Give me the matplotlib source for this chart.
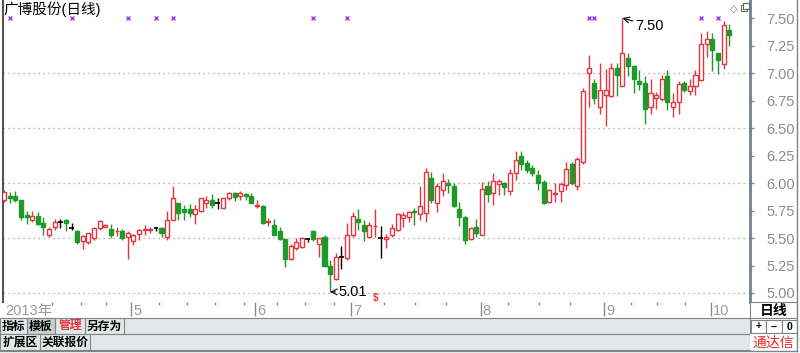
import numpy as np
import matplotlib
matplotlib.use('Agg')
import matplotlib.pyplot as plt
from matplotlib.patches import Rectangle
from matplotlib.transforms import blended_transform_factory

plt.rcParams['font.family'] = ['Liberation Sans', 'Noto Sans CJK SC', 'DejaVu Sans']

# ---- data ----
title = '广博股份(日线)'

opens = [5.845, 5.88, 5.88, 5.85, 5.71, 5.66, 5.70, 5.64, 5.53, 5.60,
         5.65, 5.66, 5.59, 5.56, 5.47, 5.46, 5.50, 5.59, 5.60, 5.58,
         5.56, 5.56, 5.51, 5.47, 5.54, 5.575, 5.575, 5.59, 5.59, 5.51,
         5.66, 5.82, 5.76, 5.76, 5.72, 5.75, 5.82, 5.85, 5.815, 5.77,
         5.86, 5.91, 5.88, 5.90, 5.88, 5.795, 5.79, 5.645, 5.62, 5.56,
         5.49, 5.31, 5.41, 5.42, 5.49, 5.56, 5.45, 5.51, 5.25, 5.13,
         5.33, 5.32, 5.53, 5.67, 5.62, 5.51, 5.605, 5.50, 5.49, 5.53,
         5.57, 5.68, 5.69, 5.745, 5.72, 5.73, 6.05, 5.82, 5.94, 6.00,
         5.97, 5.76, 5.69, 5.49, 5.60, 5.53, 5.97, 5.91, 5.99, 6.00,
         5.93, 6.09, 6.25, 6.18, 6.14, 6.07, 6.01, 5.83, 5.90, 5.93,
         5.98, 6.17, 5.97, 6.19, 7.00, 6.91, 6.69, 6.80, 6.79, 7.05,
         6.88, 7.14, 7.06, 6.93, 6.91, 6.69, 6.77, 6.76, 6.97, 6.69,
         6.74, 6.91, 6.84, 6.88, 6.94, 7.26, 7.31, 7.18, 7.08, 7.39]
highs = [5.94, 5.92, 5.93, 5.85, 5.75, 5.75, 5.74, 5.69, 5.60, 5.67,
         5.67, 5.67, 5.64, 5.57, 5.53, 5.55, 5.60, 5.66, 5.63, 5.63,
         5.60, 5.58, 5.56, 5.54, 5.58, 5.62, 5.60, 5.60, 5.60, 5.75,
         5.97, 5.82, 5.80, 5.81, 5.80, 5.86, 5.88, 5.90, 5.86, 5.86,
         5.92, 5.92, 5.93, 5.91, 5.91, 5.85, 5.80, 5.68, 5.67, 5.60,
         5.49, 5.45, 5.50, 5.51, 5.50, 5.57, 5.50, 5.53, 5.30, 5.36,
         5.43, 5.64, 5.74, 5.76, 5.66, 5.65, 5.76, 5.61, 5.54, 5.63,
         5.73, 5.74, 5.75, 5.77, 5.97, 6.14, 6.10, 6.00, 6.09, 6.04,
         6.00, 5.83, 5.70, 5.60, 5.67, 6.01, 6.02, 6.09, 6.04, 6.01,
         6.13, 6.29, 6.29, 6.21, 6.16, 6.12, 6.03, 5.95, 6.00, 6.01,
         6.19, 6.19, 6.24, 6.86, 7.16, 6.95, 7.09, 7.04, 7.09, 7.09,
         7.50, 7.18, 7.07, 7.03, 6.97, 6.95, 6.83, 6.98, 7.03, 6.82,
         6.93, 6.93, 6.95, 7.03, 7.36, 7.38, 7.36, 7.18, 7.47, 7.45]
lows = [5.83, 5.82, 5.83, 5.66, 5.63, 5.65, 5.62, 5.53, 5.51, 5.57,
        5.59, 5.56, 5.57, 5.45, 5.40, 5.45, 5.48, 5.57, 5.60, 5.50,
        5.52, 5.48, 5.31, 5.44, 5.48, 5.53, 5.55, 5.56, 5.51, 5.48,
        5.66, 5.66, 5.66, 5.69, 5.63, 5.74, 5.77, 5.77, 5.76, 5.77,
        5.85, 5.84, 5.85, 5.85, 5.82, 5.77, 5.63, 5.61, 5.53, 5.48,
        5.24, 5.30, 5.39, 5.41, 5.46, 5.47, 5.33, 5.24, 5.01, 5.12,
        5.22, 5.30, 5.51, 5.57, 5.47, 5.51, 5.51, 5.32, 5.41, 5.51,
        5.56, 5.60, 5.65, 5.62, 5.66, 5.65, 5.82, 5.74, 5.88, 5.91,
        5.78, 5.61, 5.45, 5.48, 5.51, 5.53, 5.83, 5.80, 5.89, 5.89,
        5.89, 6.03, 6.12, 6.09, 6.06, 5.94, 5.81, 5.82, 5.83, 5.83,
        5.94, 5.98, 5.94, 6.17, 6.69, 6.72, 6.63, 6.52, 6.78, 6.79,
        6.88, 6.97, 6.82, 6.85, 6.54, 6.63, 6.67, 6.75, 6.66, 6.60,
        6.63, 6.83, 6.80, 6.80, 6.93, 7.15, 7.02, 6.99, 7.04, 7.25]
closes = [5.92, 5.86, 5.85, 5.69, 5.69, 5.70, 5.63, 5.60, 5.58, 5.65,
          5.65, 5.64, 5.59, 5.46, 5.52, 5.55, 5.59, 5.65, 5.62, 5.53,
          5.565, 5.50, 5.55, 5.53, 5.57, 5.58, 5.58, 5.59, 5.55, 5.66,
          5.86, 5.73, 5.74, 5.73, 5.76, 5.86, 5.85, 5.80, 5.815, 5.86,
          5.91, 5.87, 5.91, 5.88, 5.82, 5.80, 5.64, 5.655, 5.53, 5.49,
          5.31, 5.43, 5.46, 5.50, 5.49, 5.49, 5.50, 5.25, 5.17, 5.33,
          5.33, 5.53, 5.70, 5.65, 5.56, 5.62, 5.61, 5.50, 5.51, 5.59,
          5.72, 5.71, 5.74, 5.735, 5.79, 6.10, 5.85, 5.97, 6.02, 5.98,
          5.79, 5.69, 5.48, 5.59, 5.55, 5.95, 5.90, 6.02, 6.02, 5.96,
          6.09, 6.21, 6.17, 6.12, 6.09, 6.00, 5.82, 5.94, 5.91, 5.99,
          6.13, 6.00, 6.22, 6.84, 7.05, 6.77, 6.85, 6.85, 7.05, 6.98,
          7.18, 7.06, 6.95, 6.90, 6.67, 6.82, 6.80, 6.95, 6.74, 6.74,
          6.90, 6.85, 6.88, 6.98, 7.26, 7.31, 7.21, 7.12, 7.44, 7.35]

month_labels = ['2013年', '5', '6', '7', '8', '9', '10']
month_pos = [-0.2, 22.6, 44.7, 61.8, 84.8, 106.8, 125.8]
week_pos = [8.6, 13.6, 18.1, 27.6, 32.6, 37.6, 42.6, 48.6, 53.6, 58.6,
            67.6, 73.1, 78.6, 89.6, 95.1, 100.6, 111.6, 116.1, 121.1]
signal_idx = [1, 12, 22, 27, 30, 55, 61, 104, 105, 124, 127]
high_idx, high_val = 110, 7.50
low_idx, low_val = 58, 5.01
dollar_idx = 66
grid_levels = [5.0, 5.5, 6.0, 6.5, 7.0]

W, H = 800, 353
RED = '#e83440'
GREEN = '#1f9a2a'


def box(x0, y0, x1, y1):
    # pixel box (top-left origin) -> figure fraction
    return [x0 / W, 1 - y1 / H, (x1 - x0) / W, (y1 - y0) / H]


fig = plt.figure(figsize=(8, 3.53), dpi=100)
fig.patch.set_facecolor('white')

# ---- main candle panel ----
ax = fig.add_axes(box(3, 0, 750, 302))
n = len(opens)
x = np.arange(n)
o, hi, lo, c = (np.array(v) for v in (opens, highs, lows, closes))
up = c > o
down = c < o
flat = c == o
cols = np.where(up, RED, np.where(down, GREEN, 'black'))

for g in grid_levels:
    ax.axhline(g, color='#9a9a9a', lw=0.9, ls=(0, (1, 3)), zorder=1)

ax.vlines(x, lo, hi, colors=cols, lw=1, zorder=2)
bot = np.minimum(o, c)
hgt = np.abs(c - o)
ax.bar(x[up], hgt[up], 0.72, bot[up], facecolor='white', edgecolor=RED, lw=1, zorder=3)
ax.bar(x[down], hgt[down], 0.72, bot[down], facecolor=GREEN, edgecolor=GREEN, lw=1, zorder=3)
ax.hlines(o[flat], x[flat] - 0.4, x[flat] + 0.4, colors='black', lw=1.2, zorder=3)

top_tr = blended_transform_factory(ax.transData, ax.transAxes)
ax.plot(signal_idx, [0.94] * len(signal_idx), ls='none', marker='x', ms=3.5, mew=1,
        color='#9a3cf0', transform=top_tr, zorder=4)

ax.annotate(f'{high_val:.2f}', xy=(high_idx, high_val), xytext=(13, -8),
            textcoords='offset pixels', ha='left', va='center', fontsize=10.5,
            arrowprops=dict(arrowstyle='->', color='black', lw=0.8, shrinkA=0, shrinkB=0))
ax.annotate(f'{low_val:.2f}', xy=(low_idx, low_val), xytext=(8, 0),
            textcoords='offset pixels', ha='left', va='center', fontsize=10.5,
            arrowprops=dict(arrowstyle='->', color='black', lw=0.8, shrinkA=0, shrinkB=0))
ax.text(dollar_idx, 0.013, '$', transform=top_tr, ha='center', va='center', fontsize=7,
        color=RED, fontweight='bold')

ax.set_xlim(-0.2, 132.7)
ax.set_ylim(7.5 - 284 / 110, 7.5 + 18 / 110)
ax.set_xticks([])
ax.yaxis.tick_right()
ax.set_yticks(np.arange(5.0, 7.51, 0.25))
ax.yaxis.set_major_formatter(matplotlib.ticker.FormatStrFormatter('%.2f'))
ax.tick_params(axis='y', length=3, width=1, color='#888888', pad=9,
               labelsize=10.5, labelcolor='#8c8c8c')
for s in ('top', 'bottom'):
    ax.spines[s].set_visible(False)
ax.spines['left'].set_color('#555555')
ax.spines['left'].set_linewidth(1.5)
ax.spines['right'].set_color('#70828a')
ax.spines['right'].set_linewidth(2)

ax.text(0.0, 0.995, title, transform=ax.transAxes, ha='left', va='top',
        fontsize=10.5, color='black')

# ---- date strip ----
axd = fig.add_axes(box(3, 302, 750, 318))
axd.set_xlim(ax.get_xlim())
axd.set_ylim(1, 0)
axd.axis('off')
axd.vlines(month_pos[1:], 0, 0.9, color='#8a8a8a', lw=1)
axd.vlines(week_pos, 0, 0.2, color='#8a8a8a', lw=1)
for lab, p in zip(month_labels, month_pos):
    axd.text(p + 0.35, 0.55, lab, ha='left', va='center', fontsize=10.5, color='#9a9a9a')

# ---- toolbar / frame overlay in pixel coords ----
ov = fig.add_axes([0, 0, 1, 1])
ov.set_xlim(0, W)
ov.set_ylim(H, 0)
ov.axis('off')

bar_bg = '#e3e7e7'
edge = '#7c8686'
ov.add_patch(Rectangle((0, 318), 750, 16, fc=bar_bg, ec=edge, lw=0.8))
ov.add_patch(Rectangle((0, 334), 750, 16, fc=bar_bg, ec=edge, lw=0.8))
ov.add_patch(Rectangle((27, 318), 28, 16, fc='#c9cece', ec=edge, lw=0.8))
for xx in (27, 55, 85, 124):
    ov.plot([xx, xx], [318, 334], color=edge, lw=0.8)
for xx in (40, 90):
    ov.plot([xx, xx], [334, 350], color=edge, lw=0.8)
row1 = [('指标', 14, 'black'), ('模板', 41, 'black'), ('管理', 70, RED), ('另存为', 104.5, 'black')]
for t, cx, cc in row1:
    ov.text(cx, 326.5, t, ha='center', va='center', fontsize=8.5, fontweight='bold', color=cc)
for t, cx in (('扩展区', 20), ('关联报价', 65)):
    ov.text(cx, 342.5, t, ha='center', va='center', fontsize=8.5, fontweight='bold', color='black')

# right lower panel
ov.add_patch(Rectangle((750, 302), 47, 16, fc='white', ec=edge, lw=0.8))
ov.text(773.5, 310.5, '日线', ha='center', va='center', fontsize=10, fontweight='bold')
for i, t in enumerate(('+', '−', '0')):
    ov.add_patch(Rectangle((751 + i * 15.3, 320), 15.3, 13, fc='white', ec=edge, lw=0.8))
    ov.text(758.6 + i * 15.3, 326.5, t, ha='center', va='center', fontsize=7.5, fontweight='bold')
ov.add_patch(Rectangle((750, 334), 47, 16, fc='white', ec='none'))
ov.text(773.5, 342.5, '通达信', ha='center', va='center', fontsize=10, color='#ee2b2b')

# outer frame
ov.plot([797, 797], [0, 351], color=edge, lw=1)
ov.plot([0, 797], [351, 351], color=edge, lw=1)

# small window icons top right
ov.text(734, 9, '◇', ha='center', va='center', fontsize=7, color='#666666', family='DejaVu Sans')
ov.add_patch(Rectangle((741, 5), 6, 6, fc='white', ec='#666666', lw=0.8))
ov.add_patch(Rectangle((743, 3), 6, 6, fc='white', ec='#666666', lw=0.8))

fig.savefig('out.png', dpi=100)
